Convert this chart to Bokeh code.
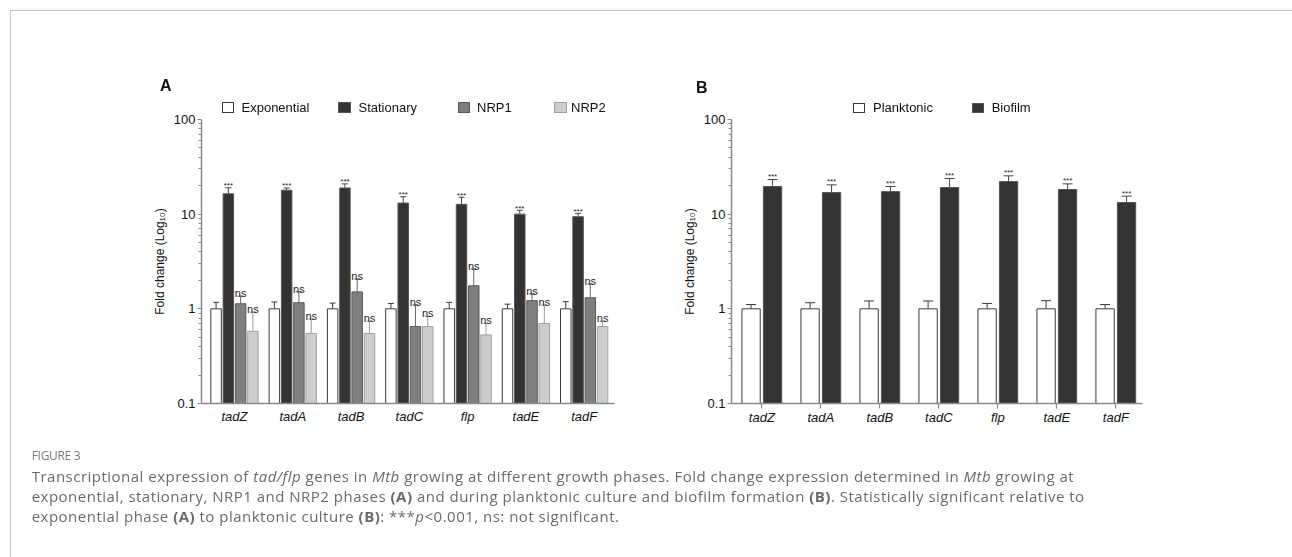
from bokeh.plotting import figure
from bokeh.models import (Range1d, FixedTicker, CustomJSTickFormatter, ColumnDataSource,
                          Whisker, TeeHead, Div)
from bokeh.layouts import column, row
from bokeh.embed import file_html
from bokeh.resources import INLINE
from bokeh.core.properties import value

# ---------------- data ----------------
genes = ["tadZ", "tadA", "tadB", "tadC", "flp", "tadE", "tadF"]

# Panel A
exp_val = [1.0, 1.0, 1.0, 1.0, 1.0, 1.0, 1.0]
exp_err = [1.17, 1.18, 1.15, 1.14, 1.17, 1.12, 1.19]
sta_val = [16.4, 17.9, 18.9, 13.1, 12.7, 10.0, 9.4]
sta_err = [19.0, 18.9, 20.9, 15.3, 15.1, 11.0, 10.2]
nrp1_val = [1.13, 1.16, 1.51, 0.65, 1.75, 1.22, 1.31]
nrp1_err = [1.36, 1.52, 2.07, 1.10, 2.64, 1.44, 1.83]
nrp2_val = [0.58, 0.55, 0.55, 0.65, 0.53, 0.70, 0.65]
nrp2_err = [0.92, 0.78, 0.74, 0.83, 0.70, 1.10, 0.74]
sig_a = {"Stationary": "***", "NRP1": "ns", "NRP2": "ns"}

# Panel B
plank_val = [1.0, 1.0, 1.0, 1.0, 1.0, 1.0, 1.0]
plank_err = [1.11, 1.16, 1.21, 1.21, 1.14, 1.22, 1.11]
bio_val = [19.6, 16.9, 17.3, 19.1, 22.1, 18.2, 13.3]
bio_err = [23.2, 20.4, 19.6, 23.8, 25.4, 20.9, 15.5]
sig_b = {"Biofilm": "***"}

y_ticks = [0.1, 1, 10, 100]

FONT = "Liberation Sans"
AXIS_COL = "#8a8a8a"
FRAME_COL = "#c4c4c4"

styles = {
    "Exponential": ("#ffffff", "#3a3a3a", "#3a3a3a"),
    "Stationary": ("#333333", "#555555", "#444444"),
    "NRP1": ("#7f7f7f", "#5a5a5a", "#6a6a6a"),
    "NRP2": ("#cdcdcd", "#a0a0a0", "#9a9a9a"),
    "Planktonic": ("#ffffff", "#3a3a3a", "#3a3a3a"),
    "Biofilm": ("#333333", "#555555", "#444444"),
}


def make_panel(width, height, bl, br, bt, bb, xr, tick_out):
    p = figure(width=width, height=height, x_range=Range1d(*xr), y_range=Range1d(0.1, 100),
               y_axis_type="log", output_backend="svg", toolbar_location=None,
               min_border_left=bl, min_border_right=br, min_border_top=bt, min_border_bottom=bb)
    p.outline_line_color = None
    p.xgrid.visible = False
    p.ygrid.visible = False
    p.background_fill_color = None
    p.border_fill_color = None
    minor = [k * 10.0 ** e for e in (-1, 0, 1) for k in range(2, 10)]
    ya = p.yaxis[0]
    ya.ticker = FixedTicker(ticks=y_ticks, minor_ticks=minor)
    ya.formatter = CustomJSTickFormatter(code="return tick < 1 ? tick.toFixed(1) : tick.toFixed(0);")
    ya.axis_line_color = AXIS_COL
    ya.axis_line_width = 1.5
    ya.major_tick_line_color = AXIS_COL
    ya.major_tick_line_width = 1.2
    ya.minor_tick_line_color = AXIS_COL
    ya.major_tick_out = 4
    ya.major_tick_in = 0
    ya.minor_tick_out = 3
    ya.minor_tick_in = 0
    ya.major_label_text_font = FONT
    ya.major_label_text_font_size = "13px"
    ya.major_label_text_color = "#111111"
    ya.major_label_standoff = 2
    ya.axis_label = "Fold change (Log\u2081\u2080)"
    ya.axis_label_text_font = FONT
    ya.axis_label_text_font_size = "12px"
    ya.axis_label_text_font_style = "normal"
    ya.axis_label_text_color = "#111111"
    ya.axis_label_standoff = 4

    xa = p.xaxis[0]
    xa.ticker = FixedTicker(ticks=list(range(len(genes))))
    xa.major_label_overrides = {i: g for i, g in enumerate(genes)}
    xa.axis_line_color = AXIS_COL
    xa.axis_line_width = 1.5
    xa.major_tick_line_color = AXIS_COL
    xa.major_tick_line_width = 1.2
    xa.major_tick_out = tick_out
    xa.major_tick_in = 0
    xa.minor_tick_out = 0
    xa.minor_tick_in = 0
    xa.major_label_text_font = FONT
    xa.major_label_text_font_size = "13px"
    xa.major_label_text_font_style = "italic"
    xa.major_label_text_color = "#111111"
    xa.major_label_standoff = 5 if tick_out == 0 else 1
    return p


def add_series(p, name, vals, errs, offset, bw, cap, sig, sig_size, sig_off):
    fill, line, ecol = styles[name]
    xs = [i + offset for i in range(len(vals))]
    p.vbar(x=xs, top=vals, bottom=0.1, width=bw, fill_color=fill, line_color=line, line_width=1)
    src = ColumnDataSource(dict(x=xs, lo=vals, hi=errs))
    p.add_layout(Whisker(source=src, base="x", lower="lo", upper="hi", dimension="height",
                         line_color=ecol, line_width=1,
                         upper_head=TeeHead(size=cap, line_color=ecol, line_width=1),
                         lower_head=None))
    if sig:
        p.text(x=xs, y=errs, text=[sig] * len(xs), text_font=value(FONT), text_font_size=sig_size,
               text_align="center", text_baseline="alphabetic", y_offset=sig_off, text_color="#222222")


# ---------------- panel A ----------------
pA = make_panel(642, 430, 201, 28, 118, 27, (-0.566, 6.52), 0)
bwA = 0.18
offA = [-0.316, -0.105, 0.105, 0.316]
add_series(pA, "Exponential", exp_val, exp_err, offA[0], bwA, 6, None, None, 0)
add_series(pA, "Stationary", sta_val, sta_err, offA[1], bwA, 6, sig_a["Stationary"], "8px", -2)
add_series(pA, "NRP1", nrp1_val, nrp1_err, offA[2], bwA, 6, sig_a["NRP1"], "11px", -3)
add_series(pA, "NRP2", nrp2_val, nrp2_err, offA[3], bwA, 6, sig_a["NRP2"], "11px", -3)

# ---------------- panel B ----------------
pB = make_panel(634, 430, 89, 134, 119, 26, (-0.514, 6.452), 5)
bwB = 0.31
offB = [-0.182, 0.182]
add_series(pB, "Planktonic", plank_val, plank_err, offB[0], bwB, 10, None, None, 0)
add_series(pB, "Biofilm", bio_val, bio_err, offB[1], bwB, 10, sig_b["Biofilm"], "8px", -3)

# ---------------- overlay: panel letters, legends, frame, caption ----------------
def fx(left, top, inner, extra=""):
    return ('<div style="position:fixed;left:%.1fpx;top:%.1fpx;white-space:nowrap;%s">%s</div>'
            % (left, top, extra, inner))

lab_css = "font-family:'Liberation Sans',Arial,sans-serif;font-size:13px;line-height:16px;color:#111;"
parts = []
# frame
parts.append(fx(9.5, 9.5, "", "width:1.5px;height:548px;background:%s;" % FRAME_COL))
parts.append(fx(9.5, 9.5, "", "width:1283px;height:1.5px;background:%s;" % FRAME_COL))
# panel letters
let_css = "font-family:'Liberation Sans',Arial,sans-serif;font-size:16px;font-weight:bold;line-height:20px;color:#111;"
parts.append(fx(160, 75.5, "A", let_css))
parts.append(fx(696, 77.5, "B", let_css))
# legends
legend_items = [("Exponential", 221.7, 241.5, 107.3), ("Stationary", 338, 358.5, 107.3),
                ("NRP1", 457.5, 477, 107.3), ("NRP2", 554, 571, 107.3),
                ("Planktonic", 852.7, 873, 107.7), ("Biofilm", 971.7, 991.7, 107.7)]
for name, sx, tx, cy in legend_items:
    fill, line, _ = styles[name]
    parts.append(fx(sx, cy - 5.2, "", "width:12.5px;height:10.5px;box-sizing:border-box;"
                    "background:%s;border:1px solid %s;" % (fill, line)))
    parts.append(fx(tx, cy - 7.6, name, lab_css))
# caption
cap_font = "font-family:'Open Sans',sans-serif;"
parts.append(fx(31.7, 446, "FIGURE 3", cap_font + "font-size:12px;letter-spacing:-0.3px;line-height:20px;color:#7a7a7a;"))
cap_text = (
    'Transcriptional expression of <i>tad/flp</i> genes in <i>Mtb</i> growing at different growth phases. '
    'Fold change expression determined in <i>Mtb</i> growing at<br>'
    'exponential, stationary, NRP1 and NRP2 phases <b>(A)</b> and during planktonic culture and biofilm '
    'formation <b>(B)</b>. Statistically significant relative to<br>'
    'exponential phase <b>(A)</b> to planktonic culture <b>(B)</b>: ***<i>p</i>&lt;0.001, ns: not significant.'
)
parts.append(fx(31.7, 466, cap_text, cap_font + "font-size:15px;letter-spacing:0.49px;line-height:20px;color:#6a6a6a;"))

overlay = Div(text="".join(parts), width=1276, height=111)

layout = column(row(pA, pB), overlay)
open("out.html", "w").write(file_html(layout, INLINE))
